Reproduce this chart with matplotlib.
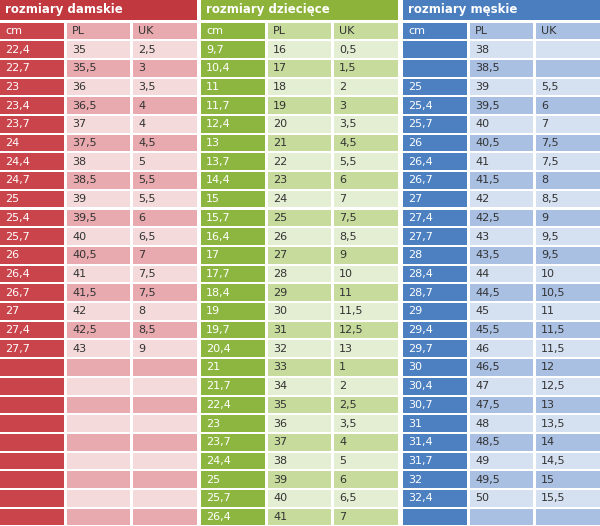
import matplotlib.pyplot as plt
from matplotlib.patches import Rectangle

women_cm = ["22,4", "22,7", "23", "23,4", "23,7", "24", "24,4", "24,7", "25", "25,4",
            "25,7", "26", "26,4", "26,7", "27", "27,4", "27,7"]
women_pl = ["35", "35,5", "36", "36,5", "37", "37,5", "38", "38,5", "39", "39,5",
            "40", "40,5", "41", "41,5", "42", "42,5", "43"]
women_uk = ["2,5", "3", "3,5", "4", "4", "4,5", "5", "5,5", "5,5", "6",
            "6,5", "7", "7,5", "7,5", "8", "8,5", "9"]

kids_cm = ["9,7", "10,4", "11", "11,7", "12,4", "13", "13,7", "14,4", "15", "15,7", "16,4",
           "17", "17,7", "18,4", "19", "19,7", "20,4", "21", "21,7", "22,4", "23", "23,7",
           "24,4", "25", "25,7", "26,4"]
kids_pl = ["16", "17", "18", "19", "20", "21", "22", "23", "24", "25", "26", "27", "28",
           "29", "30", "31", "32", "33", "34", "35", "36", "37", "38", "39", "40", "41"]
kids_uk = ["0,5", "1,5", "2", "3", "3,5", "4,5", "5,5", "6", "7", "7,5", "8,5", "9", "10",
           "11", "11,5", "12,5", "13", "1", "2", "2,5", "3,5", "4", "5", "6", "6,5", "7"]

men_cm = ["", "", "25", "25,4", "25,7", "26", "26,4", "26,7", "27", "27,4", "27,7", "28",
          "28,4", "28,7", "29", "29,4", "29,7", "30", "30,4", "30,7", "31", "31,4", "31,7",
          "32", "32,4"]
men_pl = ["38", "38,5", "39", "39,5", "40", "40,5", "41", "41,5", "42", "42,5", "43", "43,5",
          "44", "44,5", "45", "45,5", "46", "46,5", "47", "47,5", "48", "48,5", "49",
          "49,5", "50"]
men_uk = ["", "", "5,5", "6", "7", "7,5", "7,5", "8", "8,5", "9", "9,5", "9,5", "10",
          "10,5", "11", "11,5", "11,5", "12", "12,5", "13", "13,5", "14", "14,5", "15", "15,5"]

W, H = 600, 526
fig = plt.figure(figsize=(W / 100, H / 100), dpi=100)
ax = fig.add_axes([0, 0, 1, 1])
ax.set_xlim(0, W)
ax.set_ylim(H, 0)
ax.axis("off")

groups = [
    ("rozmiary damskie", 0, women_cm, women_pl, women_uk,
     "#C2383F", "#C9444B", "#F4DADA", "#E8AAAE"),
    ("rozmiary dziecięce", 201, kids_cm, kids_pl, kids_uk,
     "#8DB33A", "#8DB640", "#E4EED3", "#C6DB9C"),
    ("rozmiary męskie", 403, men_cm, men_pl, men_uk,
     "#4A7EBF", "#4C80C0", "#D5E0F1", "#AAC0E3"),
]

top = 22.5
rh = 18.7
nrows = 26
col_x = [0, 67, 133]
col_w = [64, 63, 64]

for title, gx, cm, pl, uk, hdr, dark, light1, light2 in groups:
    ax.add_patch(Rectangle((gx, 0), 197, 20, color=hdr, lw=0))
    ax.text(gx + 5, 10, title, color="white", fontsize=8.5, va="center",
            fontweight="bold")
    cols = [cm, pl, uk]
    for r in range(nrows + 1):
        y = top + r * rh
        for c in range(3):
            if c == 0:
                fc, tc = dark, "white"
            else:
                fc = light2 if r % 2 == 0 else light1
                tc = "#333333"
            ax.add_patch(Rectangle((gx + col_x[c], y), col_w[c], rh - 2, color=fc, lw=0))
            if r == 0:
                txt = ["cm", "PL", "UK"][c]
            else:
                vals = cols[c]
                txt = vals[r - 1] if r - 1 < len(vals) else ""
            if txt:
                ax.text(gx + col_x[c] + 5, y + rh / 2 - 1, txt, color=tc,
                        fontsize=8, va="center")

fig.savefig("out.png", dpi=100, facecolor="white")
